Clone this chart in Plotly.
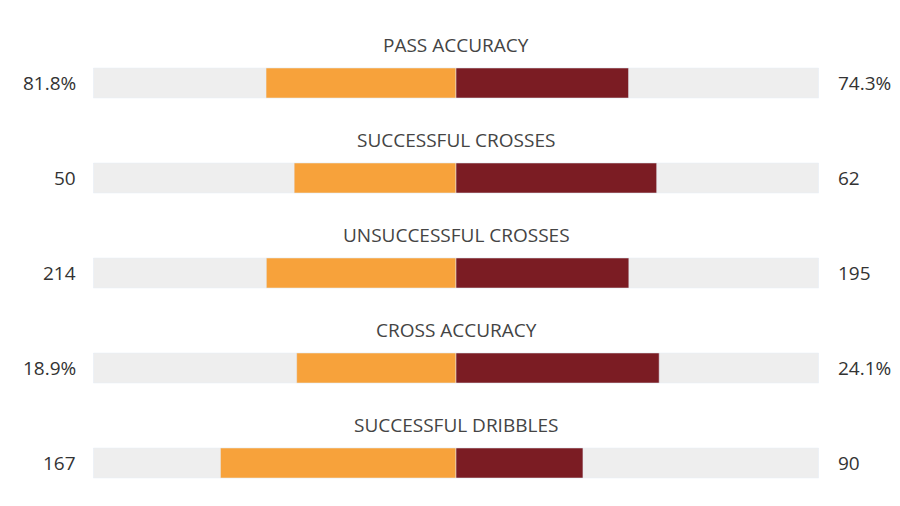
import plotly.graph_objects as go

stats = ["PASS ACCURACY", "SUCCESSFUL CROSSES", "UNSUCCESSFUL CROSSES",
         "CROSS ACCURACY", "SUCCESSFUL DRIBBLES", "UNSUCCESSFUL DRIBBLES"]
home = [81.8, 50, 214, 18.9, 167, 140]
away = [74.3, 62, 195, 24.1, 90, 120]
home_lbl = ["81.8%", "50", "214", "18.9%", "167", "140"]
away_lbl = ["74.3%", "62", "195", "24.1%", "90", "120"]

half = 362.5
ypos = [75 + 95 * i for i in range(len(stats))]
hs = [h / (h + a) for h, a in zip(home, away)]
as_ = [a / (h + a) for h, a in zip(home, away)]

fig = go.Figure()
fig.add_bar(y=ypos, x=[2] * len(stats), base=[-1] * len(stats), orientation="h",
            width=30, marker_color="#EEEEEE", hoverinfo="skip")
fig.add_bar(y=ypos, x=[-v for v in hs], orientation="h", width=30,
            marker_color="#F7A23B", hovertext=home_lbl)
fig.add_bar(y=ypos, x=as_, orientation="h", width=30,
            marker_color="#7B1C23", hovertext=away_lbl)

font = dict(family="Open Sans", size=19, color="#333")
for y, s, hl, al in zip(ypos, stats, home_lbl, away_lbl):
    fig.add_annotation(x=0, y=y - 38, text=s, showarrow=False,
                       font=dict(family="Open Sans", size=19, color="#444"))
    fig.add_annotation(x=70, xref="paper" if False else "x", y=y, text=hl, showarrow=False,
                       xanchor="right", font=font)
    fig.add_annotation(x=al, y=y, text=al, showarrow=False, font=font)

# reposition value labels in axis units
anns = list(fig.layout.annotations)
for i in range(len(stats)):
    anns[3 * i + 1].x = (70 - 448) / half
    anns[3 * i + 2].x = (828 - 448) / half
    anns[3 * i + 2].xanchor = "left"
fig.layout.annotations = anns

fig.update_layout(
    width=900, height=506, barmode="overlay", showlegend=False,
    margin=dict(l=0, r=0, t=0, b=0), plot_bgcolor="white", paper_bgcolor="white",
    xaxis=dict(range=[-448 / half, 452 / half], visible=False, fixedrange=True),
    yaxis=dict(range=[506, 0], visible=False, fixedrange=True),
)
fig.write_html("out.html")
